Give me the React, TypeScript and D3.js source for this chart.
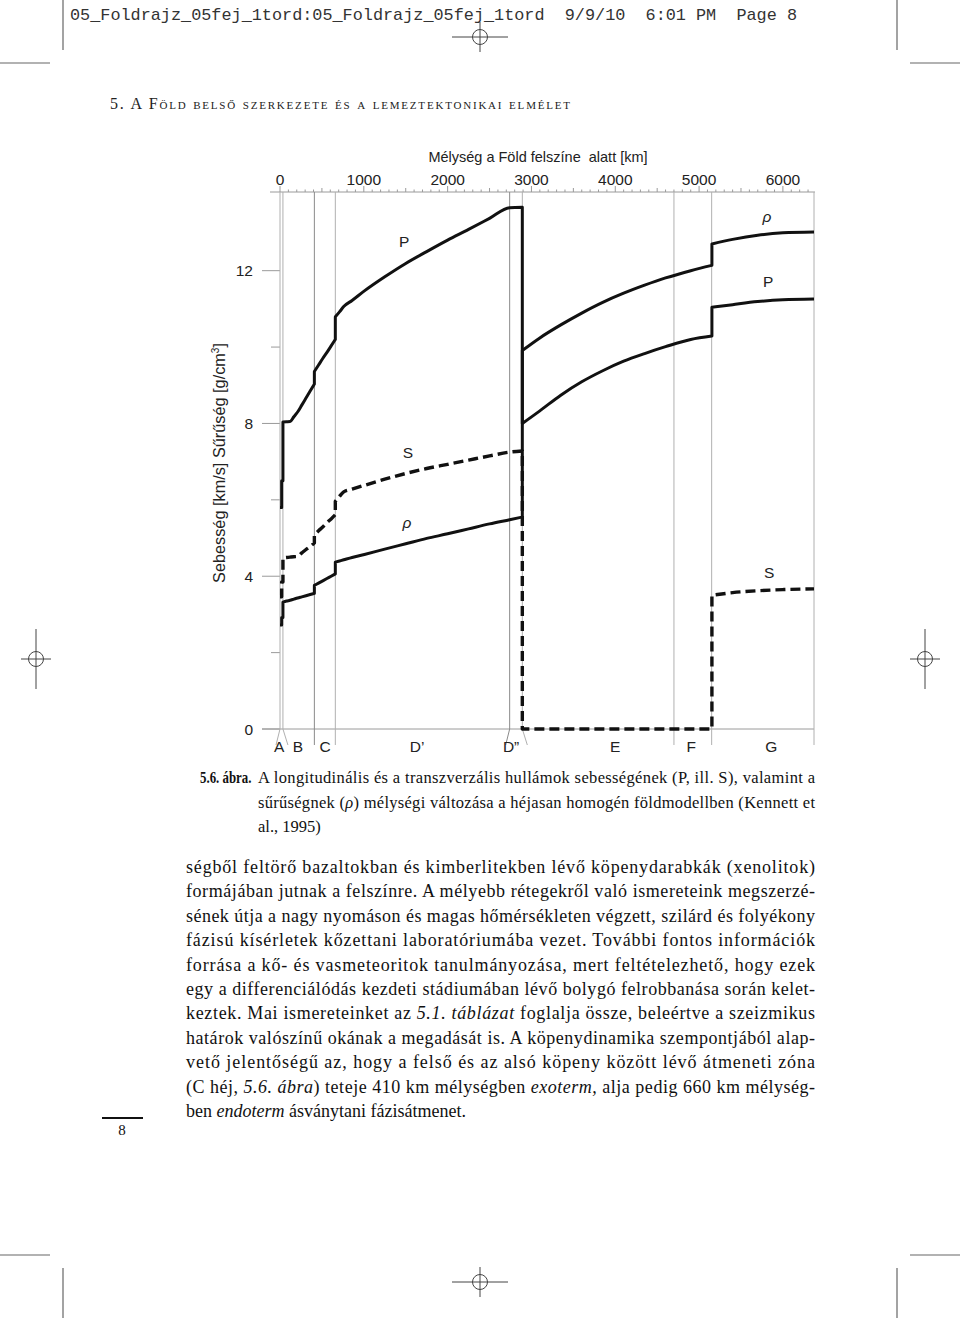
import React from 'react';
import * as d3 from 'd3';

// ---------- data (ak135-like Earth model) ----------
const depthKm = [0, 20, 20, 35, 35, 77.5, 120, 165, 210, 260, 310, 360, 410, 410, 460, 510, 560, 610, 660, 660, 710, 760, 860, 1007, 1250, 1500, 1750, 2000, 2250, 2500, 2740, 2891, 2891, 3100, 3350, 3600, 3850, 4100, 4350, 4600, 4900, 5153, 5153, 5400, 5700, 6000, 6371];
const vpKmS = [5.8, 5.8, 6.5, 6.5, 8.04, 8.045, 8.05, 8.175, 8.3, 8.48, 8.665, 8.85, 9.03, 9.36, 9.53, 9.7, 9.86, 10.03, 10.2, 10.79, 10.92, 11.06, 11.22, 11.47, 11.84, 12.19, 12.5, 12.8, 13.08, 13.37, 13.65, 13.66, 8.0, 8.33, 8.74, 9.09, 9.38, 9.63, 9.83, 10.01, 10.2, 10.29, 11.04, 11.11, 11.19, 11.24, 11.26];
const vsKmS = [3.46, 3.46, 3.85, 3.85, 4.48, 4.49, 4.5, 4.51, 4.52, 4.61, 4.7, 4.78, 4.87, 5.08, 5.19, 5.29, 5.4, 5.5, 5.61, 5.96, 6.09, 6.21, 6.28, 6.38, 6.54, 6.69, 6.82, 6.93, 7.04, 7.15, 7.25, 7.28, 0, 0, 0, 0, 0, 0, 0, 0, 0, 0, 3.5, 3.57, 3.62, 3.65, 3.67];
const rhoGcm3 = [2.72, 2.72, 2.92, 2.92, 3.32, 3.35, 3.37, 3.4, 3.43, 3.46, 3.49, 3.52, 3.55, 3.76, 3.82, 3.88, 3.94, 4.0, 4.06, 4.37, 4.4, 4.43, 4.49, 4.57, 4.71, 4.85, 4.99, 5.11, 5.24, 5.37, 5.48, 5.55, 9.91, 10.24, 10.58, 10.89, 11.17, 11.41, 11.62, 11.81, 12.0, 12.14, 12.7, 12.82, 12.93, 12.99, 13.01];

const depthTickValues = [0, 1000, 2000, 3000, 4000, 5000, 6000];
const valueTickMajor = [0, 4, 8, 12];
const valueTickMinor = [2, 6, 10];
const boundaryDepths = [0, 35, 410, 660, 2740, 2891, 4700, 5150, 6371];
const zoneLabels = ['A', 'B', 'C', 'D’', 'D”', 'E', 'F', 'G'];
const zoneLabelDepths = [-10, 215, 537, 1635, 2757, 3998, 4905, 5860];

const curveLabels = [
  { t: 'P', d: 1480, v: 12.75, it: false },
  { t: 'ρ', d: 5811, v: 13.41, it: true },
  { t: 'P', d: 5823, v: 11.7, it: false },
  { t: 'S', d: 1527, v: 7.23, it: false },
  { t: 'ρ', d: 1515, v: 5.39, it: true },
  { t: 'S', d: 5835, v: 4.08, it: false },
];

const headerText = '05_Foldrajz_05fej_1tord:05_Foldrajz_05fej_1tord  9/9/10  6:01 PM  Page 8';
const sectionTitle = '5. A Föld belső szerkezete és a lemeztektonikai elmélet';
const xTitle = 'Mélység a Föld felszíne  alatt [km]';

type Part = { s: string; i?: boolean };
const captionLines: Part[][] = [
  [{ s: 'A longitudinális és a transzverzális hullámok sebességének (P, ill. S), valamint a' }],
  [{ s: 'sűrűségnek (' }, { s: 'ρ', i: true }, { s: ') mélységi változása a héjasan homogén földmodellben (Kennett et' }],
  [{ s: 'al., 1995)' }],
];
const bodyLines: Part[][] = [
  [{ s: 'ségből feltörő bazaltokban és kimberlitekben lévő köpenydarabkák (xenolitok)' }],
  [{ s: 'formájában jutnak a felszínre. A mélyebb rétegekről való ismereteink megszerzé-' }],
  [{ s: 'sének útja a nagy nyomáson és magas hőmérsékleten végzett, szilárd és folyékony' }],
  [{ s: 'fázisú kísérletek kőzettani laboratóriumába vezet. További fontos információk' }],
  [{ s: 'forrása a kő- és vasmeteoritok tanulmányozása, mert feltételezhető, hogy ezek' }],
  [{ s: 'egy a differenciálódás kezdeti stádiumában lévő bolygó felrobbanása során kelet-' }],
  [{ s: 'keztek. Mai ismereteinket az ' }, { s: '5.1. táblázat', i: true }, { s: ' foglalja össze, beleértve a szeizmikus' }],
  [{ s: 'határok valószínű okának a megadását is. A köpenydinamika szempontjából alap-' }],
  [{ s: 'vető jelentőségű az, hogy a felső és az alsó köpeny között lévő átmeneti zóna' }],
  [{ s: '(C héj, ' }, { s: '5.6. ábra', i: true }, { s: ') teteje 410 km mélységben ' }, { s: 'exoterm,', i: true }, { s: ' alja pedig 660 km mélység-' }],
  [{ s: 'ben ' }, { s: 'endoterm', i: true }, { s: ' ásványtani fázisátmenet.' }],
];

// ---------- scales ----------
const x = d3.scaleLinear().domain([0, 6371]).range([280, 814]);
const y = d3.scaleLinear().domain([0, 14.06]).range([729, 192]);

function seriesPath(values: number[]): string {
  // split at discontinuities (repeated depth), smooth each piece, join with vertical jumps
  const segs: [number, number][][] = [];
  let cur: [number, number][] = [];
  depthKm.forEach((d, i) => {
    if (i > 0 && d === depthKm[i - 1]) {
      segs.push(cur);
      cur = [];
    }
    cur.push([d, values[i]]);
  });
  segs.push(cur);
  const gen = d3.line<[number, number]>().x(p => x(p[0])).y(p => y(p[1])).curve(d3.curveMonotoneX);
  return segs
    .map((s, i) => {
      const p = s.length === 1 ? `M${x(s[0][0])},${y(s[0][1])}` : (gen(s) as string);
      return i === 0 ? p : 'L' + p.slice(1);
    })
    .join('');
}

const SANS = '"Liberation Sans", Arial, Helvetica, sans-serif';
const SERIF = '"Liberation Serif", "Times New Roman", serif';
const MONO = '"Liberation Mono", "Courier New", monospace';

function Crosshair({ cx, cy, horiz }: { cx: number; cy: number; horiz: boolean }) {
  const lh = horiz ? 28 : 15;
  const lv = horiz ? 15 : 30;
  return (
    <g stroke="#444" strokeWidth={1} fill="none">
      <line x1={cx - lh} x2={cx + lh} y1={cy} y2={cy} />
      <line x1={cx} x2={cx} y1={cy - lv} y2={cy + lv} />
      <circle cx={cx} cy={cy} r={7.5} />
    </g>
  );
}

function TextLine({ x0, y0, parts, width, size }: { x0: number; y0: number; parts: Part[]; width?: number; size: number }) {
  return (
    <text
      x={x0}
      y={y0}
      fontFamily={SERIF}
      fontSize={size}
      fill="#111"
      textLength={width}
      lengthAdjust={width ? 'spacing' : undefined}
    >
      {parts.map((p, i) => (
        <tspan key={i} fontStyle={p.i ? 'italic' : 'normal'}>
          {p.s}
        </tspan>
      ))}
    </text>
  );
}

export default function App() {
  const minorDepthTicks = d3.range(0, 6400, 100);
  const pPath = seriesPath(vpKmS);
  const sPath = seriesPath(vsKmS);
  const rPath = seriesPath(rhoGcm3);
  const axisGray = '#9a9a9a';
  const tickFont = 15.5;

  return (
    <svg
      width={960}
      height={1318}
      viewBox="0 0 960 1318"
      style={{ position: 'absolute', left: 0, top: 0, background: '#fff' }}
    >
      <rect x={0} y={0} width={960} height={1318} fill="#fff" />

      {/* page marks */}
      <text
        x={70}
        y={20}
        fontFamily={MONO}
        fontSize={17}
        fill="#333"
        style={{ whiteSpace: 'pre' }}
        xmlSpace="preserve"
        textLength={727}
        lengthAdjust="spacingAndGlyphs"
      >
        {headerText}
      </text>
      <g stroke="#666" strokeWidth={1.2}>
        <line x1={63} x2={63} y1={0} y2={50} />
        <line x1={897} x2={897} y1={0} y2={50} />
        <line x1={0} x2={50} y1={63} y2={63} />
        <line x1={910} x2={960} y1={63} y2={63} />
        <line x1={0} x2={50} y1={1255} y2={1255} />
        <line x1={910} x2={960} y1={1255} y2={1255} />
        <line x1={63} x2={63} y1={1268} y2={1318} />
        <line x1={897} x2={897} y1={1268} y2={1318} />
      </g>
      <Crosshair cx={480} cy={37} horiz={true} />
      <Crosshair cx={480} cy={1282} horiz={true} />
      <Crosshair cx={36} cy={659} horiz={false} />
      <Crosshair cx={925} cy={659} horiz={false} />

      <text
        x={110}
        y={109}
        fontFamily={SERIF}
        fontSize={16}
        fill="#222"
        style={{ fontVariant: 'small-caps' }}
        textLength={460}
        lengthAdjust="spacing"
      >
        {sectionTitle}
      </text>

      {/* ---------- chart ---------- */}
      <text
        x={538}
        y={162}
        textAnchor="middle"
        fontFamily={SANS}
        fontSize={14.5}
        fill="#222"
        style={{ whiteSpace: 'pre' }}
        xmlSpace="preserve"
      >
        {xTitle}
      </text>
      <text
        transform="translate(225,463) rotate(-90)"
        textAnchor="middle"
        fontFamily={SANS}
        fontSize={16.3}
        fill="#222"
      >
        Sebesség [km/s] Sűrűség [g/cm
        <tspan dy={-6} fontSize={10}>3</tspan>
        <tspan dy={6}>]</tspan>
      </text>

      {/* top axis */}
      <line x1={270} x2={815} y1={192} y2={192} stroke={axisGray} strokeWidth={1} />
      {minorDepthTicks.map(d => (
        <line key={'mt' + d} x1={x(d)} x2={x(d)} y1={192} y2={d % 1000 === 0 ? 186 : d % 500 === 0 ? 188 : 189.5} stroke={axisGray} strokeWidth={1} />
      ))}
      {depthTickValues.map(d => (
        <text key={'dl' + d} x={x(d)} y={184.5} textAnchor="middle" fontFamily={SANS} fontSize={tickFont} fill="#222">
          {d}
        </text>
      ))}

      {/* left axis ticks */}
      {valueTickMajor.map(v => (
        <g key={'vt' + v}>
          <line x1={262} x2={280} y1={y(v)} y2={y(v)} stroke={axisGray} strokeWidth={1} />
          <text x={253} y={y(v) + 5.5} textAnchor="end" fontFamily={SANS} fontSize={tickFont} fill="#222">
            {v}
          </text>
        </g>
      ))}
      {valueTickMinor.map(v => (
        <line key={'vm' + v} x1={271} x2={280} y1={y(v)} y2={y(v)} stroke={axisGray} strokeWidth={1} />
      ))}

      {/* bottom axis line */}
      <line x1={262} x2={814} y1={y(0)} y2={y(0)} stroke={axisGray} strokeWidth={1} />

      {/* zone boundaries */}
      {boundaryDepths.map((d, i) => {
        const bx = x(d);
        let dx = 0;
        if (d === 0 || d === 2740) dx = -4;
        if (d === 35 || d === 2891) dx = 5;
        return (
          <g key={'b' + d} stroke={i === 2 || i === 4 ? '#8a8a8a' : '#b0b0b0'} strokeWidth={1}>
            <line x1={bx} x2={bx} y1={192} y2={y(0)} />
            <line x1={bx} x2={bx + dx} y1={y(0)} y2={y(0) + 16} />
          </g>
        );
      })}
      {zoneLabels.map((z, i) => (
        <text key={'z' + i} x={x(zoneLabelDepths[i])} y={752} textAnchor="middle" fontFamily={SANS} fontSize={tickFont} fill="#222">
          {z}
        </text>
      ))}

      {/* curves */}
      <path d={rPath} fill="none" stroke="#111" strokeWidth={3} strokeLinejoin="round" />
      <path d={pPath} fill="none" stroke="#111" strokeWidth={3} strokeLinejoin="round" />
      <path d={sPath} fill="none" stroke="#111" strokeWidth={3.4} strokeDasharray="10,5" strokeLinejoin="round" />

      {curveLabels.map((c, i) => (
        <text
          key={'cl' + i}
          x={x(c.d)}
          y={y(c.v) + 5}
          textAnchor="middle"
          fontFamily={SANS}
          fontSize={15.5}
          fontStyle={c.it ? 'italic' : 'normal'}
          fill="#222"
        >
          {c.t}
        </text>
      ))}

      {/* caption */}
      <text
        transform="translate(200,783) scale(0.78,1)"
        fontFamily={SERIF}
        fontSize={16.5}
        fontWeight="bold"
        fill="#111"
      >
        5.6. ábra.
      </text>
      {captionLines.map((ln, i) => (
        <TextLine key={'c' + i} x0={258} y0={783 + i * 24.5} parts={ln} size={16.5} width={i < 2 ? 557 : undefined} />
      ))}

      {/* body */}
      {bodyLines.map((ln, i) => (
        <TextLine
          key={'t' + i}
          x0={186}
          y0={873 + i * 24.4}
          parts={ln}
          size={18}
          width={i < bodyLines.length - 1 ? 629 : undefined}
        />
      ))}

      {/* page number */}
      <line x1={102} x2={143} y1={1118} y2={1118} stroke="#111" strokeWidth={2} />
      <text x={122} y={1135} textAnchor="middle" fontFamily={SERIF} fontSize={15} fill="#111">
        8
      </text>
    </svg>
  );
}
